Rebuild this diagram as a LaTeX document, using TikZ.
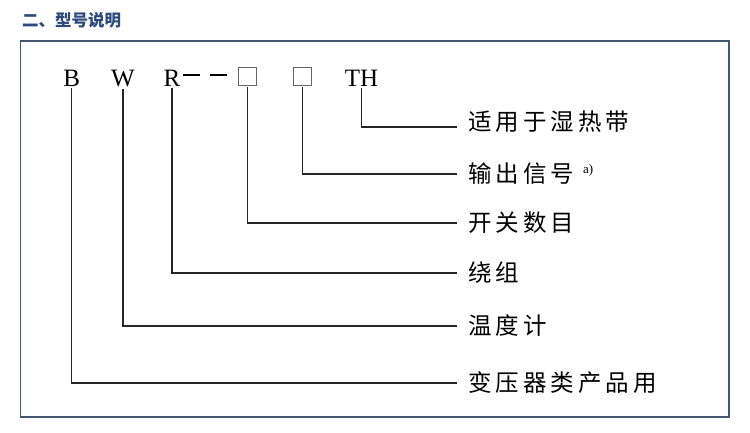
\documentclass[tikz,border=0pt]{standalone}
\usepackage{fontspec}
\setmainfont{Liberation Serif}
\newfontfamily\cjk[LetterSpace=17]{Noto Sans CJK SC}
\newfontfamily\cjkhead{Noto Sans CJK SC}

\definecolor{headblue}{HTML}{2E4A7D}
\definecolor{framegray}{HTML}{44556F}

\begin{document}
\begin{tikzpicture}[x=1pt, y=-1pt,
   code/.style={anchor=base, inner sep=0pt, font=\fontsize{25}{25}\selectfont},
   codebox/.style={draw=black!60, line width=0.9pt, minimum width=18pt, minimum height=18pt, inner sep=0pt},
   desc/.style={anchor=west, inner sep=0pt, font=\cjk\fontsize{23.5}{23.5}\selectfont},
   lead/.style={draw=black!85, line width=1.3pt, shorten <=2pt, shorten >=11pt}]

   \useasboundingbox (0,0) rectangle (750,432);

   \node [anchor=west, inner sep=0pt, text=headblue, font=\cjkhead\bfseries\fontsize{16.5}{16.5}\selectfont]
      (title) at (22,20.5) {二、型号说明};
   \draw [framegray, line width=1.2pt] (20.7,41) rectangle (729,417);

   % model code
   \foreach \n/\x/\t in {B/71.7/B, W/123/W, R/172/R, TH/361.5/TH}
     \node [code] (c\n) at (\x,86) {\t};
   \node [inner sep=0pt] (cDash) at (205,75) {\rule{17pt}{1.5pt}\hspace{10pt}\rule{17pt}{1.5pt}};
   \node [codebox] (cNum) at (247.7,76) {};
   \node [codebox] (cOut) at (302.5,76) {};

   % meanings
   \foreach \n/\y/\t in {TH/121.5/适用于湿热带, Num/223/开关数目, R/273/绕组, W/326/温度计, B/383/变压器类产品用}
     \node [desc] (l\n) at (468,\y) {\t};
   \node [desc] (lOut) at (468,174)
      {输出信号\hspace{9pt}\raisebox{9pt}{\fontspec{Liberation Serif}\fontsize{13}{13}\selectfont a)}};

   \draw [lead] (cTH.south) |- ([yshift=-5.5pt]lTH.west);
   \foreach \i in {Out, Num, R, W, B}
     \draw [lead] (c\i.south) |- (l\i.west);

\end{tikzpicture}
\end{document}
